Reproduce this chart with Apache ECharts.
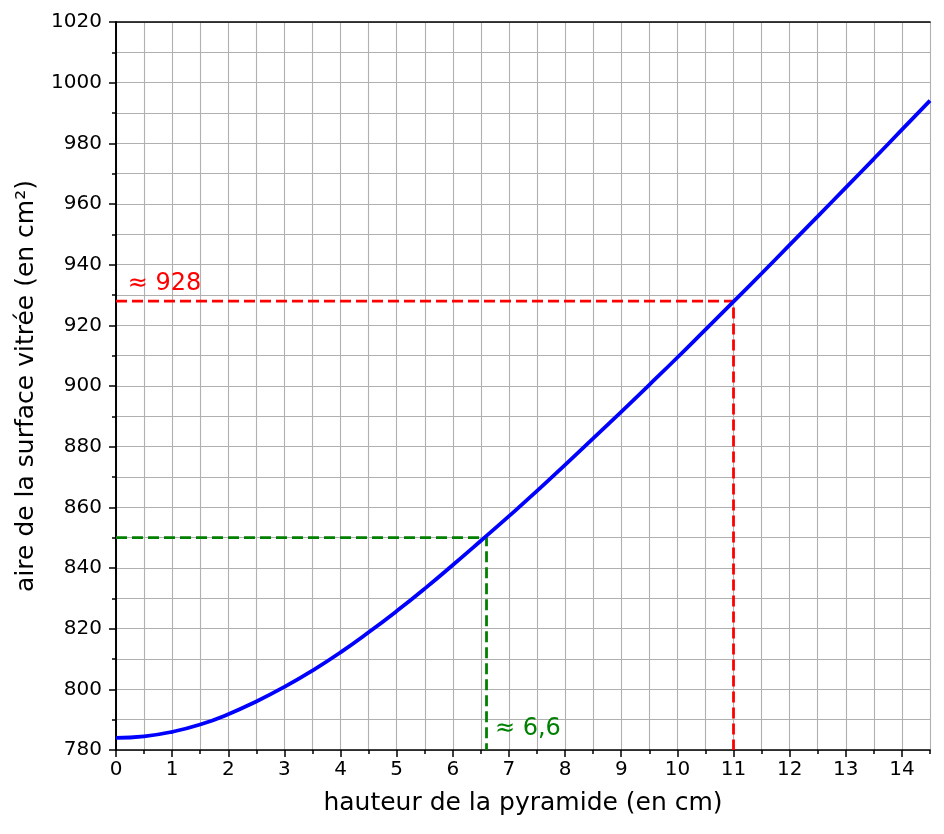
<!DOCTYPE html>
<html>
<head>
<meta charset="utf-8">
<script src="https://cdn.jsdelivr.net/npm/echarts@6/dist/echarts.min.js"></script>
<style>
  html, body { margin: 0; padding: 0; background: #fff; }
  #chart { width: 944px; height: 834px; }
</style>
</head>
<body>
<div id="chart"></div>
<script>
// hauteur (cm) et aire (cm²)
const hauteurs = [0, 0.5, 1, 1.5, 2, 2.5, 3, 3.5, 4, 4.5, 5, 5.5, 6, 6.5, 7,
  7.5, 8, 8.5, 9, 9.5, 10, 10.5, 11, 11.5, 12, 12.5, 13, 13.5, 14, 14.5]
const aires = [784.0, 784.5, 786.0, 788.4, 791.8, 796.0, 800.8, 806.2, 812.2, 818.8,
  825.8, 833.2, 841.0, 849.0, 857.1, 865.4, 874.0, 882.7, 891.5, 900.4,
  909.4, 918.6, 927.8, 937.1, 946.5, 955.9, 965.4, 974.9, 984.5, 994.1]

// lectures graphiques
const lectureRouge = [[0, 928], [11, 928], [11, 780]]
const lectureVerte = [[0, 850], [6.6, 850], [6.6, 780]]
const etiquetteRouge = [[0.21, 929.6, '≈ 928']]
const etiquetteVerte = [[6.75, 782.9, '≈ 6,6']]

const FONT = 'DejaVu Sans'
const GRID_COLOR = '#b0b0b0'

const chart = echarts.init(document.getElementById('chart'))

const option = {
  animation: false,
  textStyle: { fontFamily: FONT },
  grid: { left: 116, right: 14, top: 22, bottom: 84 },
  xAxis: [
    {
      // graduations secondaires + quadrillage
      type: 'value', min: 0, max: 14.5, interval: 0.5,
      axisLine: { show: true, onZero: false, lineStyle: { color: '#000', width: 1.7 } },
      axisTick: { show: true, length: 4, lineStyle: { color: '#000', width: 1.5 } },
      axisLabel: { show: false },
      splitLine: { show: true, lineStyle: { color: GRID_COLOR, width: 1.1 } }
    },
    {
      // graduations principales + etiquettes
      type: 'value', min: 0, max: 14.5, interval: 1, position: 'bottom',
      name: 'hauteur de la pyramide (en cm)',
      nameLocation: 'middle', nameGap: 41,
      nameTextStyle: { color: '#000', fontSize: 25, fontFamily: FONT },
      axisLine: { show: false },
      axisTick: { show: true, length: 7, lineStyle: { color: '#000', width: 1.5 } },
      axisLabel: { color: '#000', fontSize: 20, fontFamily: FONT, margin: 10, showMaxLabel: false },
      splitLine: { show: false }
    },
    {
      type: 'value', min: 0, max: 14.5, position: 'top',
      axisLine: { show: true, lineStyle: { color: '#000', width: 1.7 } },
      axisTick: { show: false }, axisLabel: { show: false }, splitLine: { show: false }
    }
  ],
  yAxis: [
    {
      type: 'value', min: 780, max: 1020, interval: 20,
      name: 'aire de la surface vitrée (en cm²)',
      nameLocation: 'middle', nameGap: 77,
      nameTextStyle: { color: '#000', fontSize: 25, fontFamily: FONT },
      axisLine: { show: true, onZero: false, lineStyle: { color: '#000', width: 1.7 } },
      axisTick: { show: true, length: 7, lineStyle: { color: '#000', width: 1.5 } },
      minorTick: { show: true, splitNumber: 2, length: 4, lineStyle: { color: '#000', width: 1.5 } },
      axisLabel: { color: '#000', fontSize: 20, fontFamily: FONT, margin: 14, formatter: (v) => String(v) },
      splitLine: { show: true, lineStyle: { color: GRID_COLOR, width: 1.1 } },
      minorSplitLine: { show: true, lineStyle: { color: GRID_COLOR, width: 1.1 } }
    },
    {
      type: 'value', min: 780, max: 1020, position: 'right',
      axisLine: { show: true, lineStyle: { color: '#000', width: 1.7 } },
      axisTick: { show: false }, axisLabel: { show: false }, splitLine: { show: false }
    }
  ],
  series: [
    {
      type: 'line', name: 'lecture 928', data: lectureRouge,
      symbol: 'none', z: 3,
      lineStyle: { color: '#ff0000', width: 2.8, type: [11, 5] }
    },
    {
      type: 'line', name: 'lecture 6,6', data: lectureVerte,
      symbol: 'none', z: 3,
      lineStyle: { color: '#008000', width: 2.8, type: [11, 5] }
    },
    {
      type: 'line', name: 'aire', smooth: true,
      data: hauteurs.map((h, i) => [h, aires[i]]),
      symbol: 'none', z: 4,
      lineStyle: { color: '#0000ff', width: 3.8 }
    },
    {
      type: 'scatter', data: etiquetteRouge, symbolSize: 0, z: 5,
      itemStyle: { opacity: 1 },
      label: {
        show: true, position: [0, 0], align: 'left', verticalAlign: 'bottom', opacity: 1,
        formatter: (p) => p.data[2], color: '#ff0000', fontSize: 24, fontFamily: FONT
      }
    },
    {
      type: 'scatter', data: etiquetteVerte, symbolSize: 0, z: 5,
      itemStyle: { opacity: 1 },
      label: {
        show: true, position: [0, 0], align: 'left', verticalAlign: 'bottom', opacity: 1,
        formatter: (p) => p.data[2], color: '#008000', fontSize: 24, fontFamily: FONT
      }
    }
  ]
}

chart.setOption(option)
</script>
</body>
</html>
